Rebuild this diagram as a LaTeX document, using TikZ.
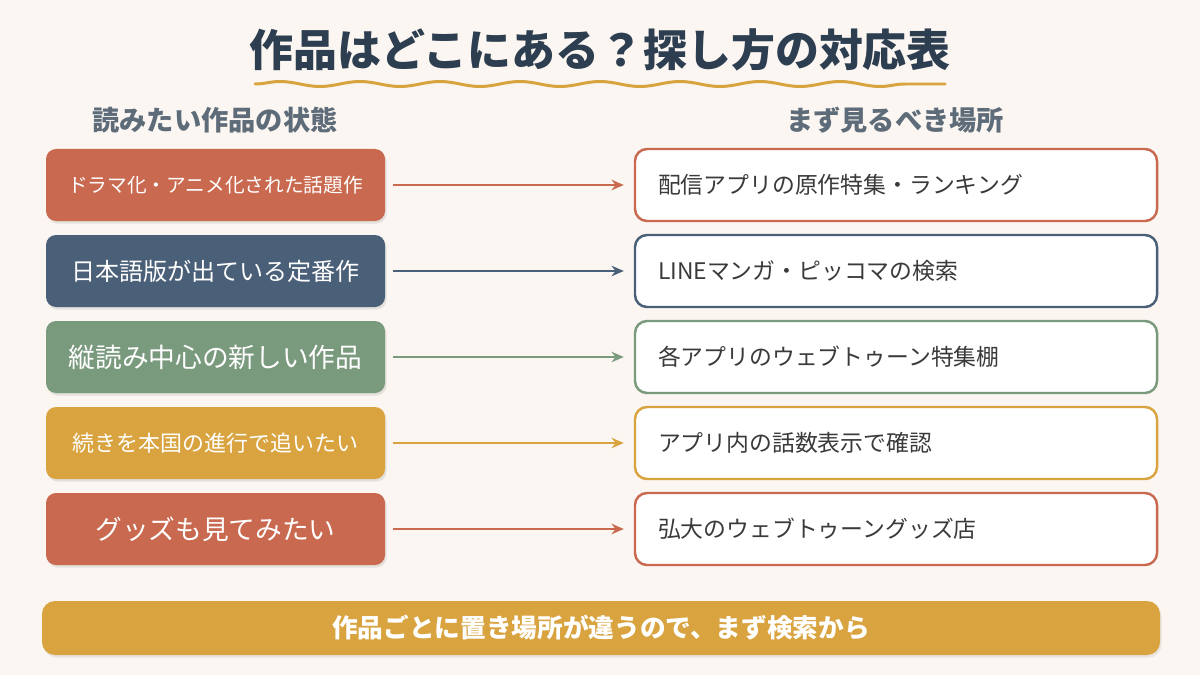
\documentclass[tikz,border=0pt]{standalone}
\usepackage{fontspec}
\setmainfont{Noto Sans CJK JP}
\usetikzlibrary{arrows.meta,shadows,decorations.pathmorphing}
\definecolor{bgcream}{HTML}{FBF6F1}
\definecolor{terra}{HTML}{C96A50}
\definecolor{navy}{HTML}{4A5F78}
\definecolor{sage}{HTML}{7A9A7E}
\definecolor{gold}{HTML}{D9A440}
\definecolor{titleink}{HTML}{2C3E50}
\definecolor{headink}{HTML}{5E6C7A}
\definecolor{bodyink}{HTML}{3A3A3A}
\begin{document}
\begin{tikzpicture}[>={Stealth[length=7pt,width=6pt]}]
        \tikzset{state/.style={rounded corners=0.2cm, minimum width=6.78cm, minimum height=1.44cm, align=center, text=white,
                drop shadow={opacity=0.18, shadow xshift=0.03cm, shadow yshift=-0.05cm}},
            place/.style={draw, line width=1.4pt, fill=white, rounded corners=0.24cm, minimum width=10.44cm, minimum height=1.44cm,
                text width=9.52cm, align=left, text=bodyink, font=\fontsize{13}{15}\selectfont},
            link/.style={->, line width=1.1pt, shorten <=0.16cm, shorten >=0.2cm},
            head/.style={text=headink, font=\bfseries\fontsize{15.5}{18}\selectfont}}
        \fill[bgcream] (0,0) rectangle (24,13.5);
        % title
        \node[text=titleink, font=\bfseries\fontsize{25}{30}\selectfont] (title) at (12,12.5) {作品はどこにある？探し方の対応表};
        \coordinate (wl) at (5.1,11.82);
        \coordinate (wr) at (18.9,11.82);
        \draw[gold, line width=1.7pt, line cap=round, decorate, decoration={snake, amplitude=0.05cm, segment length=1.6cm}] (wl) -- (wr);
        \node[head] (hl) at (4.3,11.1) {読みたい作品の状態};
        \node[head] (hr) at (17.9,11.1) {まず見るべき場所};
        % left column
        \node[state, fill=terra, font=\fontsize{11.2}{14}\selectfont] (s1) at (4.31,9.8) {ドラマ化・アニメ化された話題作};
        \node[state, fill=navy, font=\fontsize{13.7}{16}\selectfont] (s2) at (4.31,8.08) {日本語版が出ている定番作};
        \node[state, fill=sage, font=\fontsize{15.2}{18}\selectfont] (s3) at (4.31,6.36) {縦読み中心の新しい作品};
        \node[state, fill=gold, font=\fontsize{12.5}{15}\selectfont] (s4) at (4.31,4.64) {続きを本国の進行で追いたい};
        \node[state, fill=terra, font=\fontsize{15.2}{18}\selectfont] (s5) at (4.31,2.92) {グッズも見てみたい};
        % right column
        \node[place, draw=terra] (p1) at (17.92,9.8) {配信アプリの原作特集・ランキング};
        \node[place, draw=navy] (p2) at (17.92,8.08) {LINEマンガ・ピッコマの検索};
        \node[place, draw=sage] (p3) at (17.92,6.36) {各アプリのウェブトゥーン特集棚};
        \node[place, draw=gold] (p4) at (17.92,4.64) {アプリ内の話数表示で確認};
        \node[place, draw=terra] (p5) at (17.92,2.92) {弘大のウェブトゥーングッズ店};
        \draw[link, terra] (s1) -- (p1);
        \draw[link, navy] (s2) -- (p2);
        \draw[link, sage] (s3) -- (p3);
        \draw[link, gold] (s4) -- (p4);
        \draw[link, terra] (s5) -- (p5);
        % footer
        \node[fill=gold, rounded corners=0.26cm, minimum width=22.36cm, minimum height=1.08cm, text=white,
            font=\bfseries\fontsize{14.6}{17}\selectfont,
            drop shadow={opacity=0.15, shadow xshift=0.03cm, shadow yshift=-0.05cm}] (note) at (12.02,0.94) {作品ごとに置き場所が違うので、まず検索から};
    \end{tikzpicture}
\end{document}
